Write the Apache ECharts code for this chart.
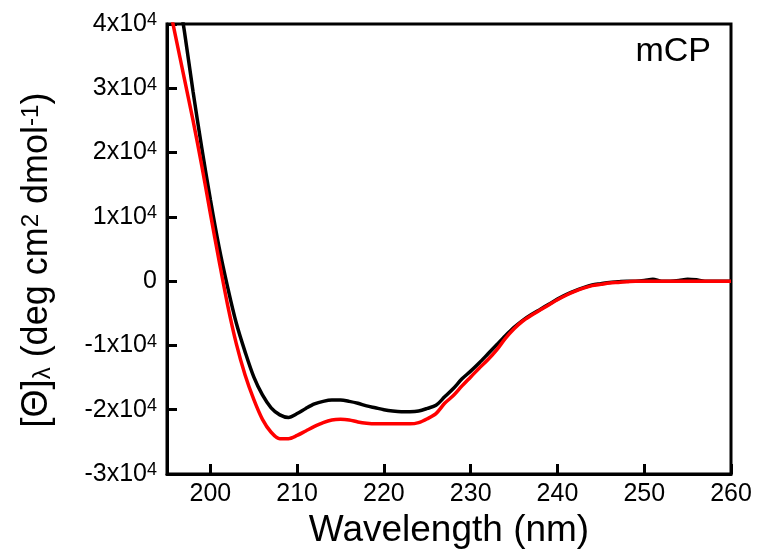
<!DOCTYPE html>
<html>
<head>
<meta charset="utf-8">
<script src="https://cdn.jsdelivr.net/npm/echarts@6/dist/echarts.min.js"></script>
<style>
html,body{margin:0;padding:0;background:#fff;}
#chart{width:765px;height:556px;}
</style>
</head>
<body>
<div id="chart"></div>
<script>
// Wavelength (nm)
var wavelengths = [195,196,197,198,199,200,201,202,203,204,205,206,207,208,209,210,211,212,213,214,215,216,217,218,219,220,221,222,223,224,225,226,227,228,229,230,231,232,233,234,235,236,237,238,239,240,241,242,243,244,245,246,247,248,249,250,251,252,253,254,255,256,257,258,259,260];
// Black curve
var blackValues = [56000,47500,38900,29500,20800,12700,5300,-1000,-6600,-11000,-14900,-17700,-19700,-20800,-21200,-20600,-19800,-19100,-18700,-18500,-18500,-18700,-19000,-19400,-19700,-20000,-20200,-20300,-20300,-20200,-19800,-19300,-18000,-16700,-15200,-14000,-12700,-11300,-9900,-8500,-7200,-6100,-5200,-4400,-3600,-2800,-2100,-1500,-1000,-600,-400,-200,-100,0,0,100,300,0,0,100,300,200,0,0,0,0];
// Red curve
var redValues = [44500,38000,31500,25000,18000,10500,3200,-3800,-9800,-14600,-18400,-21500,-23500,-24500,-24500,-24000,-23300,-22600,-22000,-21600,-21500,-21600,-21900,-22100,-22200,-22200,-22200,-22200,-22200,-22000,-21400,-20600,-19000,-17800,-16300,-14900,-13500,-12200,-10700,-8900,-7400,-6200,-5300,-4500,-3700,-2900,-2200,-1600,-1100,-700,-500,-300,-200,-100,0,0,0,0,0,0,0,0,0,0,0,0];
// Tick values
var xTicks = [200,210,220,230,240,250,260];
var yTicks = [-30000,-20000,-10000,0,10000,20000,30000,40000];

var FONT = "'Liberation Sans', Arial, sans-serif";

function pairs(xs, ys){ return xs.map(function(x,i){ return [x, ys[i]]; }); }

var chart = echarts.init(document.getElementById('chart'), null, {renderer:'canvas'});
chart.setOption({
  animation:false,
  backgroundColor:'#fff',
  grid:{left:167, right:34, top:24, bottom:82, show:true, borderColor:'#000', borderWidth:3, backgroundColor:'transparent'},
  xAxis:{
    type:'value', min:195, max:260,
    name:'Wavelength (nm)', nameLocation:'middle', nameGap:32,
    nameTextStyle:{fontFamily:FONT, fontSize:37, color:'#000'},
    axisLine:{onZero:false, lineStyle:{color:'#000', width:3}},
    axisTick:{inside:true, length:10, lineStyle:{color:'#000', width:3}, customValues:xTicks},
    axisLabel:{customValues:xTicks, fontFamily:FONT, fontSize:25, color:'#000', margin:8},
    splitLine:{show:false}
  },
  yAxis:{
    type:'value', min:-30000, max:40000, interval:10000,
    name:'{m|[Θ]}{sub|λ}{m| (deg cm}{sup|2}{m| dmol}{sup|-1}{m|)}',
    nameLocation:'middle', nameGap:112,
    nameTextStyle:{fontFamily:FONT, fontSize:36, color:'#000', padding:[0,22,0,0],
      rich:{
        m:{fontFamily:FONT, fontSize:36, color:'#000', verticalAlign:'middle'},
        sub:{fontFamily:FONT, fontSize:24, color:'#000', verticalAlign:'bottom'},
        sup:{fontFamily:FONT, fontSize:24, color:'#000', verticalAlign:'top'}
      }},
    axisLine:{onZero:false, lineStyle:{color:'#000', width:3}},
    axisTick:{inside:true, length:10, lineStyle:{color:'#000', width:3}},
    axisLabel:{
      fontFamily:FONT, fontSize:25, color:'#000', margin:10,
      formatter:function(v){
        if (v === 0) return '{n|0}';
        return '{n|' + (v/10000) + 'x10}{sup|4}';
      },
      rich:{
        n:{fontFamily:FONT, fontSize:25, color:'#000', verticalAlign:'middle'},
        sup:{fontFamily:FONT, fontSize:18, color:'#000', verticalAlign:'top'}
      }
    },
    splitLine:{show:false}
  },
  graphic:[{
    type:'text', x:711, y:52,
    style:{text:'mCP', fontFamily:FONT, fontSize:34, fill:'#000', textAlign:'right', textVerticalAlign:'middle'}
  }],
  series:[
    {type:'line', data:pairs(wavelengths, blackValues), showSymbol:false, smooth:0.3, clip:true,
     lineStyle:{color:'#000', width:3.5}, z:2},
    {type:'line', data:pairs(wavelengths, redValues), showSymbol:false, smooth:0.3, clip:true,
     lineStyle:{color:'#ff0000', width:3.5}, z:3}
  ]
});
</script>
</body>
</html>
